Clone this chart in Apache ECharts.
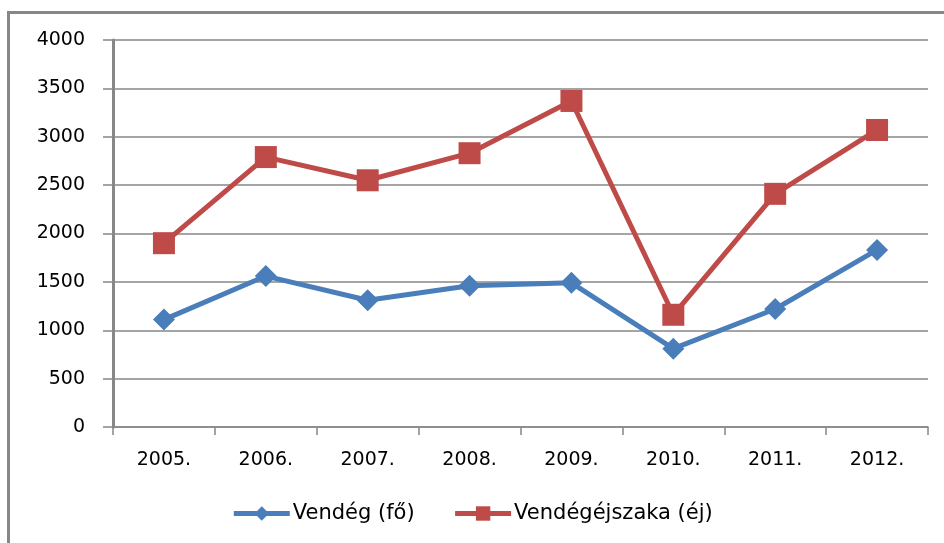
<!DOCTYPE html>
<html>
<head>
<meta charset="utf-8">
<script src="https://cdn.jsdelivr.net/npm/echarts@6/dist/echarts.min.js"></script>
<style>
html,body{margin:0;padding:0;background:#fff;}
#chart{width:944px;height:543px;}
</style>
</head>
<body>
<div id="chart"></div>
<script>
var categories = ['2005.', '2006.', '2007.', '2008.', '2009.', '2010.', '2011.', '2012.'];
var vendeg = [1110, 1560, 1310, 1460, 1490, 810, 1220, 1830];
var vendegejszaka = [1900, 2790, 2550, 2830, 3370, 1160, 2410, 3070];
var yTicks = [0, 500, 1000, 1500, 2000, 2500, 3000, 3500, 4000];

var chart = echarts.init(document.getElementById('chart'));
var font = 'DejaVu Sans';
chart.setOption({
  animation: false,
  backgroundColor: '#fff',
  graphic: [{
    type: 'rect',
    shape: { x: 8.5, y: 12.5, width: 960, height: 560 },
    style: { fill: 'none', stroke: '#878787', lineWidth: 3 },
    silent: true
  }],
  grid: { left: 113, right: 16, top: 40, bottom: 116 },
  legend: {
    bottom: 14,
    left: 'center',
    itemWidth: 56,
    itemHeight: 18,
    itemGap: 38,
    lineStyle: { width: 5 },
    textStyle: { fontFamily: font, fontSize: 21, color: '#000', padding: [0, 0, 0, -2] },
    data: ['Vendég (fő)', 'Vendégéjszaka (éj)']
  },
  xAxis: {
    type: 'category',
    data: categories,
    boundaryGap: true,
    axisLine: { lineStyle: { color: '#878787', width: 1.5 } },
    axisTick: { show: true, length: 8, alignWithLabel: false, lineStyle: { color: '#878787', width: 1.5 } },
    axisLabel: { margin: 24, fontFamily: font, fontSize: 19, color: '#000' }
  },
  yAxis: {
    type: 'value',
    min: 0,
    max: yTicks[yTicks.length - 1],
    interval: yTicks[1] - yTicks[0],
    axisLine: { show: true, lineStyle: { color: '#878787', width: 3 } },
    axisTick: { show: true, length: 10, lineStyle: { color: '#878787', width: 1.5 } },
    axisLabel: { margin: 28, fontFamily: font, fontSize: 19, color: '#000', formatter: function (v) { return String(v); } },
    splitLine: { lineStyle: { color: '#878787', width: 1.5 } }
  },
  series: [{
    name: 'Vendég (fő)',
    type: 'line',
    data: vendeg,
    symbol: 'diamond',
    symbolSize: 22,
    lineStyle: { color: '#4a7ebb', width: 5 },
    itemStyle: { color: '#4a7ebb' },
    z: 3
  }, {
    name: 'Vendégéjszaka (éj)',
    type: 'line',
    data: vendegejszaka,
    symbol: 'rect',
    symbolSize: 22,
    lineStyle: { color: '#be4b48', width: 5 },
    itemStyle: { color: '#be4b48' },
    z: 4
  }]
});
</script>
</body>
</html>
